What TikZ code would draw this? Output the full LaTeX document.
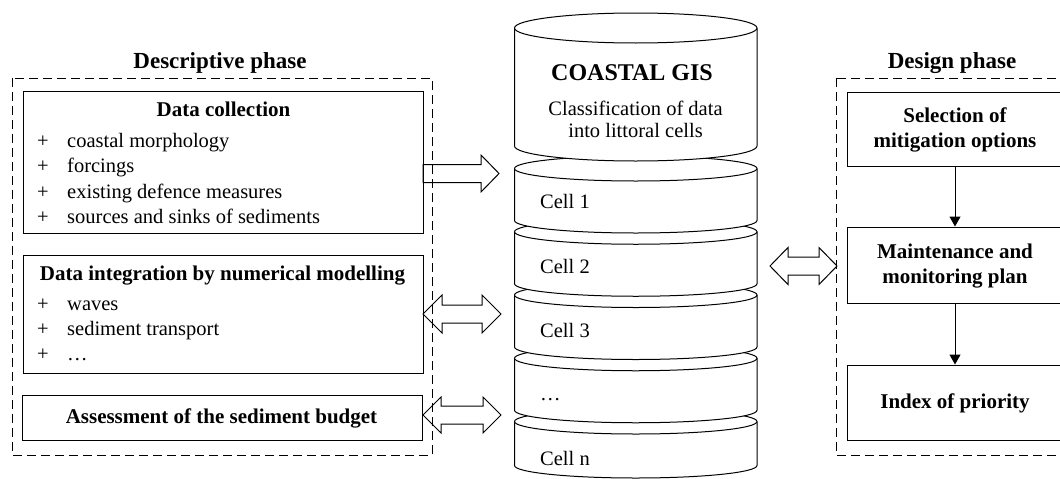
\documentclass[tikz,border=0pt]{standalone}
\usepackage{fontspec}
\setmainfont{Liberation Serif}
\usetikzlibrary{arrows.meta}
\newcommand\dblarr[5]{%
  \draw[blk] (#1,#3) -- ({#1+#5},{#3-#4}) -- ({#1+#5},{#3-9}) -- ({#2-#5},{#3-9})
    -- ({#2-#5},{#3-#4}) -- (#2,#3) -- ({#2-#5},{#3+#4}) -- ({#2-#5},{#3+9})
    -- ({#1+#5},{#3+9}) -- ({#1+#5},{#3+#4}) -- cycle;}
\newcommand\sglarr[5]{%
  \draw[blk] (#1,{#3-9}) -- ({#2-#5},{#3-9}) -- ({#2-#5},{#3-#4}) -- (#2,#3)
    -- ({#2-#5},{#3+#4}) -- ({#2-#5},{#3+9}) -- (#1,{#3+9}) -- cycle;}
\newcommand\cylcell[3]{% center y, body height, y radius
  \filldraw[cyl] (514.5,#1) -- (514.5,{#1+#2})
    arc[start angle=180,end angle=0,x radius=121.25,y radius=#3]
    -- (757,#1) arc[start angle=0,end angle=-180,x radius=121.25,y radius=#3] -- cycle;
  \draw[cyl] (757,#1) arc[start angle=0,end angle=180,x radius=121.25,y radius=#3];}
\begin{document}
\begin{tikzpicture}[x=1pt,y=-1pt,
  box/.style={draw,line width=1pt,rectangle,inner sep=0pt},
  phasebox/.style={draw,line width=0.9pt,dash pattern=on 9pt off 5pt},
  cyl/.style={draw,line width=1pt,fill=white},
  blk/.style={draw,line width=1pt,line join=miter},
  ttl/.style={font=\fontsize{23}{27}\selectfont\bfseries,anchor=base,inner sep=0pt},
  btl/.style={font=\fontsize{21}{25}\selectfont\bfseries,anchor=base,inner sep=0pt},
  itm/.style={font=\fontsize{20.5}{25}\selectfont,anchor=base west,inner sep=0pt},
  plus/.style={font=\fontsize{20.5}{25}\selectfont,anchor=base,inner sep=0pt},
  gis/.style={font=\fontsize{24}{28}\selectfont\bfseries,anchor=base,inner sep=0pt},
  celltxt/.style={font=\fontsize{20.5}{25}\selectfont,anchor=base west,inner sep=0pt},
  varrow/.style={line width=1pt,-{Triangle[length=10pt,width=11pt]}}]
\clip (0,0) rectangle (1060,479);
\fill[white] (0,0) rectangle (1060,479);

% ---------- Descriptive phase ----------
\draw[phasebox] (12,78) rectangle (432,455);
\node[ttl] (tdesc) at (220,68) {Descriptive phase};

\node[box,minimum width=400pt,minimum height=142pt] (dc) at (223,162) {};
\node[btl] (dct) at (223.5,116) {Data collection};
\foreach \y/\t [count=\i] in {147/coastal morphology,172.5/forcings,198/existing defence measures,223.5/sources and sinks of sediments}{
  \node[plus] (dcp\i) at (43,\y) {+};
  \node[itm] (dci\i) at (67,\y) {\t};
}

\node[box,minimum width=400pt,minimum height=118pt] (di) at (223,314) {};
\node[btl] (dit) at (222.5,280) {Data integration by numerical modelling};
\foreach \y/\t [count=\i] in {310/waves,335/sediment transport,360/…}{
  \node[plus] (dip\i) at (43,\y) {+};
  \node[itm] (dii\i) at (67,\y) {\t};
}

\node[box,minimum width=400pt,minimum height=45pt] (sb) at (222,417.5) {};
\node[btl] (sbt) at (221.5,423) {Assessment of the sediment budget};

% ---------- Coastal GIS cylinder (drawn bottom to top) ----------
\cylcell{421.5}{44}{12.5}
\cylcell{358.25}{52}{12.5}
\cylcell{295}{52}{12.5}
\cylcell{231.75}{52}{12.5}
\cylcell{168.5}{52}{12.5}
\cylcell{28}{118}{15}

\node[gis] (gist) at (632,80) {COASTAL GIS};
\node[ttl,font=\fontsize{20.5}{25}\selectfont] (gis1) at (635.5,115) {Classification of data};
\node[ttl,font=\fontsize{20.5}{25}\selectfont] (gis2) at (635.5,137) {into littoral cells};
\node[celltxt] (c1) at (540,208) {Cell 1};
\node[celltxt] (c2) at (540,273) {Cell 2};
\node[celltxt] (c3) at (540,337) {Cell 3};
\node[celltxt] (c4) at (540,400) {…};
\node[celltxt] (c5) at (540,465) {Cell n};

% ---------- Block arrows ----------
\sglarr{423}{499}{173.5}{18.5}{18}
\dblarr{423}{501}{314}{19}{19}
\dblarr{423}{501}{415}{18}{18}
\dblarr{770}{837}{266}{18.5}{18}

% ---------- Design phase ----------
\draw[phasebox] (836,78) rectangle (1080,455);
\node[ttl] (tdes) at (952,68) {Design phase};

\node[box,minimum width=216pt,minimum height=74pt] (sel) at (955,129) {};
\node[btl] (sel1) at (955,122) {Selection of};
\node[btl] (sel2) at (955,147) {mitigation options};

\node[box,minimum width=216pt,minimum height=76pt] (mon) at (955,265) {};
\node[btl] (mon1) at (955,258) {Maintenance and};
\node[btl] (mon2) at (955,283) {monitoring plan};

\node[box,minimum width=216pt,minimum height=75pt] (idx) at (955,402.5) {};
\node[btl] (idx1) at (955,408) {Index of priority};

\draw[varrow] (sel.south) -- (mon.north);
\draw[varrow] (mon.south) -- (idx.north);
\end{tikzpicture}
\end{document}
